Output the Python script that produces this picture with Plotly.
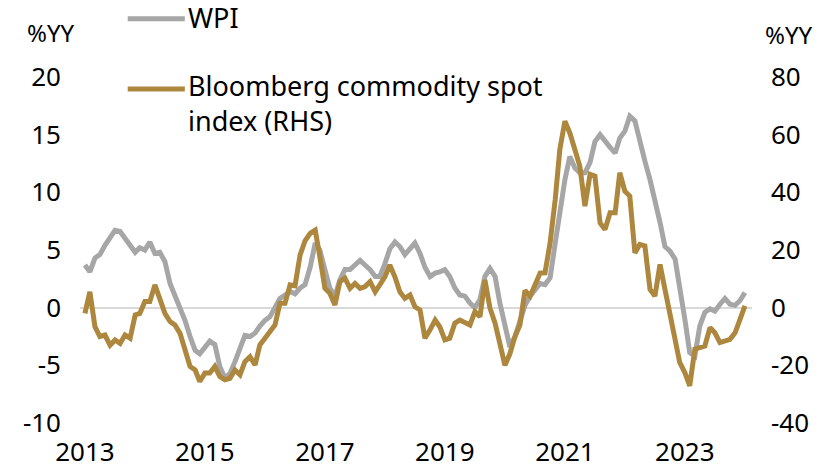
import pandas as pd
import plotly.graph_objects as go

# monthly, Apr 2013 - Apr 2024
months = pd.date_range("2013-04-01", periods=133, freq="MS")

wpi = [
    3.7, 3.1, 4.3, 4.6, 5.4, 6.1, 6.7, 6.6, 6.0, 5.3, 4.8, 5.2,
    5.0, 5.7, 4.7, 4.8, 4.0, 2.1, 1.1, 0.1, -1.1, -2.5, -3.7, -4.0,
    -3.5, -2.9, -3.2, -5.1, -6.1, -5.7, -4.7, -3.4, -2.4, -2.5, -2.2, -1.6,
    -1.1, -0.8, 0.1, 0.8, 1.1, 1.4, 1.2, 1.7, 2.0, 3.5, 5.6, 5.0,
    3.3, 1.7, 1.0, 2.4, 3.3, 3.3, 3.7, 4.1, 3.7, 3.3, 2.7, 2.7,
    3.8, 5.1, 5.7, 5.3, 4.6, 5.1, 5.6, 4.7, 3.5, 2.7, 3.0, 3.1,
    3.3, 2.7, 1.7, 1.1, 1.0, 0.4, 0.0, 0.7, 2.7, 3.4, 2.7, 0.4,
    -1.4, -3.4, -2.5, -1.2, 0.2, 1.0, 1.5, 2.1, 2.0, 2.6, 5.6, 8.5,
    11.1, 13.1, 12.1, 11.7, 11.7, 12.6, 14.4, 15.0, 14.4, 13.9, 13.4, 14.7,
    15.3, 16.6, 16.2, 14.3, 12.7, 11.1, 9.4, 7.4, 5.3, 4.9, 4.2, 1.9,
    -1.0, -3.9, -4.2, -1.6, -0.4, -0.1, -0.3, 0.3, 0.8, 0.3, 0.2, 0.6,
    1.3,
]

bcom = [
    -2.0, 5.5, -6.6, -10.0, -9.5, -13.0, -11.2, -12.4, -9.5, -10.6, -2.5, -2.0,
    2.1, 2.1, 7.9, 2.7, -2.0, -4.8, -6.0, -8.9, -15.2, -20.4, -21.6, -25.6,
    -22.7, -22.7, -20.4, -23.9, -25.0, -24.5, -21.6, -23.3, -18.7, -17.0, -19.9, -12.9,
    -10.6, -8.6, -6.0, 1.5, 1.5, 7.9, 7.6, 18.3, 23.2, 25.8, 26.9, 17.7,
    6.7, 5.0, 0.9, 9.0, 10.2, 6.7, 8.4, 6.7, 7.3, 9.0, 5.5, 7.9,
    10.7, 14.8, 10.7, 5.5, 3.2, 4.4, 0.3, -0.8, -10.6, -7.7, -4.3, -6.6,
    -11.2, -10.6, -5.4, -4.3, -5.4, -6.0, -1.4, -3.1, 9.6, -0.2, -5.4, -12.0,
    -20.0, -16.0, -10.0, -6.0, 6.0, 4.0, 8.0, 12.0, 12.1, 22.5, 37.5, 54.8,
    64.7, 60.6, 54.8, 49.0, 35.2, 46.2, 45.6, 29.4, 27.1, 32.9, 32.9, 46.8,
    40.4, 38.7, 19.0, 21.9, 21.4, 6.4, 4.0, 15.0, 6.4, -2.9, -11.0, -19.0,
    -22.5, -27.1, -14.4, -13.9, -13.3, -6.9, -8.7, -12.1, -11.5, -11.0, -8.7, -4.0,
    0.6,
]

tick_dates = ["2013-04-01", "2015-04-01", "2017-04-01", "2019-04-01", "2021-04-01", "2023-04-01"]
tick_years = ["2013", "2015", "2017", "2019", "2021", "2023"]
left_ticks = [-10, -5, 0, 5, 10, 15, 20]
right_ticks = [-40, -20, 0, 20, 40, 60, 80]

GREY = "#A6A6A6"
GOLD = "#AD873D"
FONT = "Noto Sans"
FS = 26

fig = go.Figure()
fig.add_trace(go.Scatter(x=months, y=wpi, name="WPI", mode="lines",
                         line=dict(color=GREY, width=5)))
fig.add_trace(go.Scatter(x=months, y=bcom, name="Bloomberg commodity spot index (RHS)",
                         mode="lines", line=dict(color=GOLD, width=5), yaxis="y2"))

# legend drawn by hand so it sits where the original one does
legend_items = [
    (1.168, GREY, "WPI", 1.172),
    (0.965, GOLD, "Bloomberg commodity spot<br>index (RHS)", 0.925),
]
shapes = []
annotations = []
for sy, col, txt, ty in legend_items:
    shapes.append(dict(type="line", xref="paper", yref="paper", x0=0.071, x1=0.156,
                       y0=sy, y1=sy, line=dict(color=col, width=5)))
    annotations.append(dict(text=txt, xref="paper", yref="paper", x=0.158, y=ty,
                            xanchor="left", yanchor="middle", align="left",
                            showarrow=False, font=dict(size=27)))

annotations += [
    dict(text="%YY", xref="paper", yref="paper", x=-0.043, y=1.13,
         xanchor="center", yanchor="middle", showarrow=False, font=dict(size=FS - 2)),
    dict(text="%YY", xref="paper", yref="paper", x=1.055, y=1.124,
         xanchor="center", yanchor="middle", showarrow=False, font=dict(size=FS - 2)),
]

fig.update_layout(
    width=823, height=469,
    margin=dict(l=80, r=71, t=77, b=46, autoexpand=False),
    plot_bgcolor="white", paper_bgcolor="white",
    font=dict(family=FONT, size=FS, color="#000000"),
    showlegend=False,
    xaxis=dict(type="date", range=["2013-03-02", "2024-05-14"],
               tickvals=tick_dates, ticktext=tick_years,
               showgrid=False, showline=False, zeroline=False, ticks="",
               ticklabelstandoff=11),
    yaxis=dict(range=[-10, 20], tickvals=left_ticks,
               ticktext=[str(v) for v in left_ticks], showgrid=False,
               zeroline=True, zerolinecolor="#D9D9D9", zerolinewidth=1.5,
               showline=False, ticks="", ticklabelstandoff=18),
    yaxis2=dict(range=[-40, 80], tickvals=right_ticks,
                ticktext=[str(v) for v in right_ticks], overlaying="y", side="right",
                showgrid=False, zeroline=False, showline=False, ticks="",
                ticklabelstandoff=18),
    shapes=shapes,
    annotations=annotations,
)

# page has a default 8px body margin; drop it so the chart fills the window
fig.write_html("out.html", config={"displayModeBar": False},
               post_script="document.body.style.margin='0px';")
